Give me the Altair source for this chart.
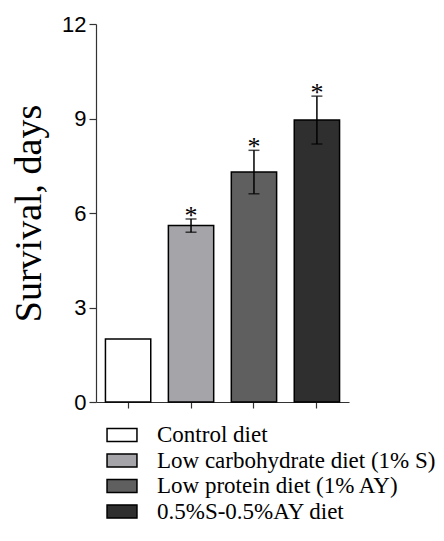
import altair as alt
import pandas as pd

diets = ["Control diet", "Low carbohydrate diet (1% S)", "Low protein diet (1% AY)", "0.5%S-0.5%AY diet"]
survival = [2.0, 5.6, 7.3, 8.95]
sem = [0.0, 0.21, 0.69, 0.76]
stars = ["", "*", "*", "*"]
colors = ["#ffffff", "#a4a4a9", "#5f5f5f", "#2f2f2f"]
y_ticks = [0, 3, 6, 9, 12]

df = pd.DataFrame({
    "diet": diets,
    "survival": survival,
    "lo": [m - e for m, e in zip(survival, sem)],
    "hi": [m + e for m, e in zip(survival, sem)],
    "star": stars,
})
err_df = df[df["star"] != ""]

xenc = alt.X("diet:N", sort=diets,
             scale=alt.Scale(paddingInner=0.28, paddingOuter=0.15),
             axis=alt.Axis(title=None, labels=False, tickSize=6, domainColor="#333333",
                           tickColor="#333333", domainWidth=1.2, tickWidth=1.2))
yscale = alt.Scale(domain=[0, 12], nice=False)

bars = alt.Chart(df).mark_bar(stroke="black", strokeWidth=1.5, opacity=1).encode(
    x=xenc,
    y=alt.Y("survival:Q", scale=yscale,
            axis=alt.Axis(values=y_ticks, title="Survival, days", grid=False,
                          titleFont="Liberation Serif", titleFontSize=38, titleFontWeight="normal",
                          titleColor="black", titlePadding=13,
                          labelFont="Liberation Sans", labelFontSize=22, labelColor="black",
                          labelPadding=3, tickSize=7, tickColor="#333333", domainColor="#333333",
                          domainWidth=1.2, tickWidth=1.2)),
    fill=alt.Fill("diet:N", sort=diets, scale=alt.Scale(domain=diets, range=colors),
                  legend=alt.Legend(title=None, orient="none", legendX=14, legendY=399,
                                    symbolType="M-1.36,-0.6H1.36V0.6H-1.36Z", symbolSize=484,
                                    symbolStrokeColor="black", symbolStrokeWidth=1.5,
                                    symbolOpacity=1, labelFont="Liberation Serif",
                                    labelFontSize=23, labelColor="black", labelOffset=23,
                                    rowPadding=1.5, padding=0, labelLimit=400)),
)

rules = alt.Chart(err_df).mark_rule(color="black", strokeWidth=1.5).encode(
    x=alt.X("diet:N", sort=diets), y=alt.Y("lo:Q", scale=yscale), y2="hi:Q"
)
caps_hi = alt.Chart(err_df).mark_tick(color="black", thickness=1.5, size=11, orient="horizontal").encode(
    x=alt.X("diet:N", sort=diets), y=alt.Y("hi:Q", scale=yscale)
)
caps_lo = alt.Chart(err_df).mark_tick(color="black", thickness=1.5, size=11, orient="horizontal").encode(
    x=alt.X("diet:N", sort=diets), y=alt.Y("lo:Q", scale=yscale)
)
asterisks = alt.Chart(err_df).mark_text(font="Liberation Serif", fontSize=26, color="black",
                                        baseline="alphabetic", dy=5).encode(
    x=alt.X("diet:N", sort=diets), y=alt.Y("hi:Q", scale=yscale), text="star:N"
)

chart = alt.layer(bars, rules, caps_hi, caps_lo, asterisks).properties(
    width=253, height=378,
    background="white",
    autosize=alt.AutoSizeParams(type="none"),
    padding={"left": 88, "top": 16, "right": 87, "bottom": 131},
).configure_view(strokeWidth=0, stroke=None)

chart.save("out.html", embed_options={"renderer": "svg", "actions": False})
